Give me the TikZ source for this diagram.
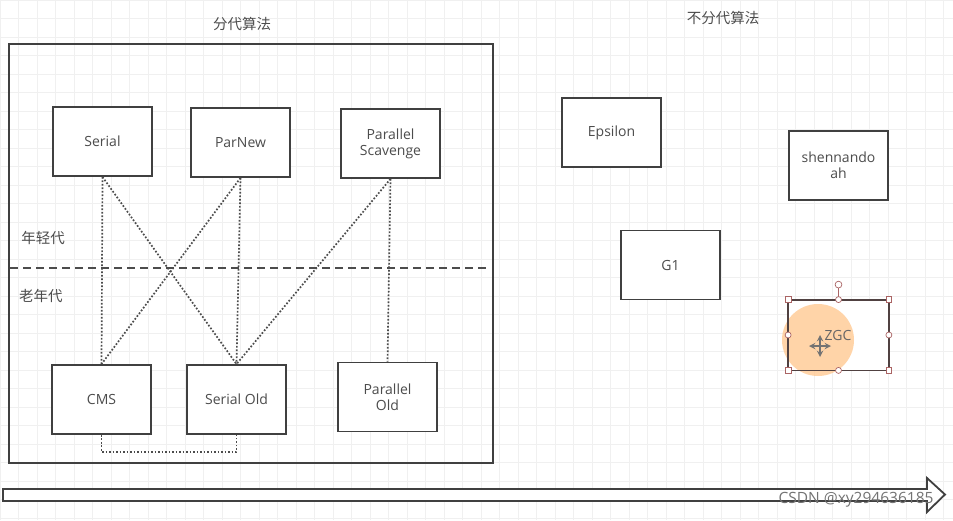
\documentclass[tikz,border=0pt]{standalone}
\usepackage{fontspec}
\setmainfont{Open Sans}
\newfontfamily\cjk{Noto Sans CJK SC}
\usetikzlibrary{positioning}

\begin{document}
\begin{tikzpicture}[x=1pt, y=-1pt,
  gcbox/.style={draw=black!75, line width=1.8pt, fill=white,
    minimum width=99pt, minimum height=69pt, align=center,
    text=black!70, font=\fontsize{14}{16}\selectfont},
  genlabel/.style={text=black!70, font=\cjk\fontsize{14.5}{16}\selectfont},
  compat/.style={line width=1.7pt, black!70, dash pattern=on 1.7pt off 1.8pt},
  handle/.style={draw={rgb,255:red,170;green,100;blue,100}, fill=white,
    line width=0.7pt}]
  \useasboundingbox (0,0) rectangle (953,520);
  % faint canvas grid
  \draw[black!6, step=18.5pt] (0,0) grid (953,520);
  % ---------- generational collectors ----------
  \node[genlabel] (gentitle) at (242,24) {分代算法};
  \draw[black!75, line width=1.8pt] (9,44) rectangle (493,463);
  \node[genlabel] (young) at (43,238) {年轻代};
  \node[genlabel] (old) at (41,296) {老年代};
  \draw[black!70, line width=1.8pt, dash pattern=on 8pt off 5pt]
    (10,268) -- (488,268);
  % young generation
  \node[gcbox] (serial) at (102.5,141.5) {Serial};
  \node[gcbox] (parnew) at (240.5,142.5) {ParNew};
  \node[gcbox] (parscav) at (390.5,143.5) {Parallel\\Scavenge};
  % old generation
  \node[gcbox] (cms) at (101.5,399.5) {CMS};
  \node[gcbox] (serialold) at (236.5,399.5) {Serial Old};
  \node[gcbox] (parold) at (387.5,397) {Parallel\\Old};
  % which pairs work together
  \draw[compat] (serial.south) -- (cms.north);
  \draw[compat] (serial.south) -- (serialold.north);
  \draw[compat] (parnew.south) -- (cms.north);
  \draw[compat] (parnew.south) -- (serialold.north);
  \draw[compat] (parscav.south) -- (serialold.north);
  \draw[compat] (parscav.south) -- (parold.north);
  \draw[compat] (cms.south) -- ++(0,17) -| (serialold.south);
  % ---------- non-generational collectors ----------
  \node[genlabel] (nongentitle) at (723,18) {不分代算法};
  \node[gcbox] (epsilon) at (611.5,132.5) {Epsilon};
  \node[gcbox] (shen) at (838.5,165.5) {shennando\\ah};
  \node[gcbox] (g1) at (670.5,265) {G1};
  \node[gcbox, draw=none] (zgc) at (838.5,335) {};
  % selected shape, highlighted
  \fill[orange!45, opacity=0.75] (818,340) circle (36);
  \draw[line width=1.8pt, draw={rgb,255:red,80;green,65;blue,65}]
    (zgc.north west) rectangle (zgc.south east);
  \node[text=black!60, font=\fontsize{14}{15}\selectfont] (zgctext) at (838,335) {ZGC};
  \draw[handle] (zgc.north) -- ++(0,-15) coordinate (rot);
  \draw[handle] (rot) circle (3.4);
  \foreach \a in {north west, north east, south west, south east}
    \draw[handle] ([xshift=-2.8pt, yshift=2.8pt]zgc.\a) rectangle ++(5.6,5.6);
  \foreach \a in {north, south, west, east}
    \draw[handle] (zgc.\a) circle (3);
  % move cursor
  \draw[black!55, line width=1.8pt, <->, >=stealth] (809,346) -- (831,346);
  \draw[black!55, line width=1.8pt, <->, >=stealth] (820,335) -- (820,357);
  % ---------- time axis ----------
  \draw[black!75, line width=1.8pt, fill=white, line join=miter]
    (3,489) -- (927,489) -- (927,478) -- (945,494.5) -- (927,512)
    -- (927,501) -- (3,501) -- cycle;
  \node[text=black!55, font=\fontsize{15.5}{17}\selectfont] (mark) at (856,500)
    {CSDN @xy294636185};
\end{tikzpicture}
\end{document}
